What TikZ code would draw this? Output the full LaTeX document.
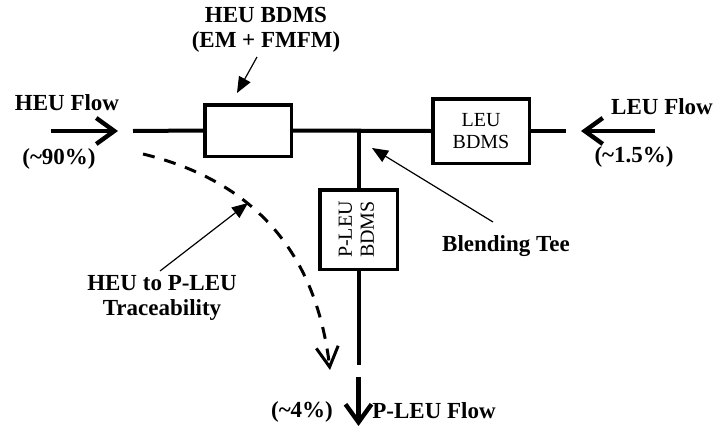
\documentclass[tikz,border=0pt]{standalone}
\usepackage{fontspec}
\setmainfont{Liberation Serif}
\usetikzlibrary{positioning,arrows.meta}
\tikzset{
  pipe/.style={line width=2pt},
  bdms/.style={draw, line width=1.75pt, fill=white, align=center, inner sep=0pt, font=\fontsize{10}{11}\selectfont},
  lbl/.style={font=\fontsize{11.5}{12.5}\selectfont\bfseries, align=center, inner sep=1pt},
  flow/.style={line width=2.2pt, -{Straight Barb[length=9pt,width=13pt]}},
  trace/.style={line width=1.5pt, dash pattern=on 6pt off 5pt, -{Straight Barb[length=10pt,width=11pt]}},
  pointer/.style={line width=0.6pt, -{Triangle[length=8pt,width=6.5pt]}}
}
\begin{document}
\begin{tikzpicture}[x=0.5pt,y=-0.5pt]
\useasboundingbox (0,0) rectangle (715,428);
\node[bdms, minimum width=43.25pt, minimum height=25.75pt] (heubox) at (248,130.5) {};
\node[bdms, minimum width=48.25pt, minimum height=32.25pt] (leubox) at (481,131) {LEU\\BDMS};
\coordinate (heuin) at (133,131);
\coordinate (tee) at (358.5,131);
\coordinate (leuout) at (566,131);
\coordinate (pleuout) at (358.5,365);
\draw[pipe] (heuin) -- (heubox.west);
\draw[pipe] (heubox.east) -- (leubox.west);
\draw[pipe] (leubox.east) -- (leuout);
\draw[pipe] (tee) -- (pleuout);
\node[bdms, minimum width=38.75pt, minimum height=39.75pt] (pleubox) at (358.5,229.5)
  {\rotatebox{90}{\begin{tabular}{@{}c@{}}P-LEU\\BDMS\end{tabular}}};
\coordinate (heustart) at (51,131);
\coordinate (heutip) at (118,131);
\coordinate (leustart) at (655,131);
\coordinate (leutip) at (581,131);
\coordinate (pleustart) at (358.5,377);
\coordinate (pleutip) at (358.5,426);
\draw[flow] (heustart) -- (heutip);
\draw[flow] (leustart) -- (leutip);
\draw[flow] (pleustart) -- (pleutip);
\node[lbl] (heuflow) at (67,103) {HEU Flow};
\node[lbl] (heupct) at (59,159) {(\textasciitilde90\%)};
\node[lbl] (leuflow) at (662,107) {LEU Flow};
\node[lbl] (leupct) at (634,157) {(\textasciitilde1.5\%)};
\node[lbl] (pleuflow) at (434,411) {P-LEU Flow};
\node[lbl] (pleupct) at (302,412) {(\textasciitilde4\%)};
\node[lbl] (heulbl) at (266,30) {HEU BDMS\\(EM + FMFM)};
\node[lbl] (tracelbl) at (162,298) {HEU to P-LEU\\Traceability};
\node[lbl] (teelbl) at (506,246) {Blending Tee};
\coordinate (tracefrom) at (143,154);
\coordinate (traceto) at (330,370);
\draw[trace] (tracefrom) .. controls (270,185) and (318,270) .. (traceto);
\coordinate (heutail) at (257,57);
\coordinate (heuhead) at (237,93);
\coordinate (tracetail) at (160,271);
\coordinate (tracehead) at (248,203);
\coordinate (teetail) at (493,222);
\coordinate (teehead) at (372,148);
\draw[pointer] (heutail) -- (heuhead);
\draw[pointer] (tracetail) -- (tracehead);
\draw[pointer] (teetail) -- (teehead);
\end{tikzpicture}
\end{document}
